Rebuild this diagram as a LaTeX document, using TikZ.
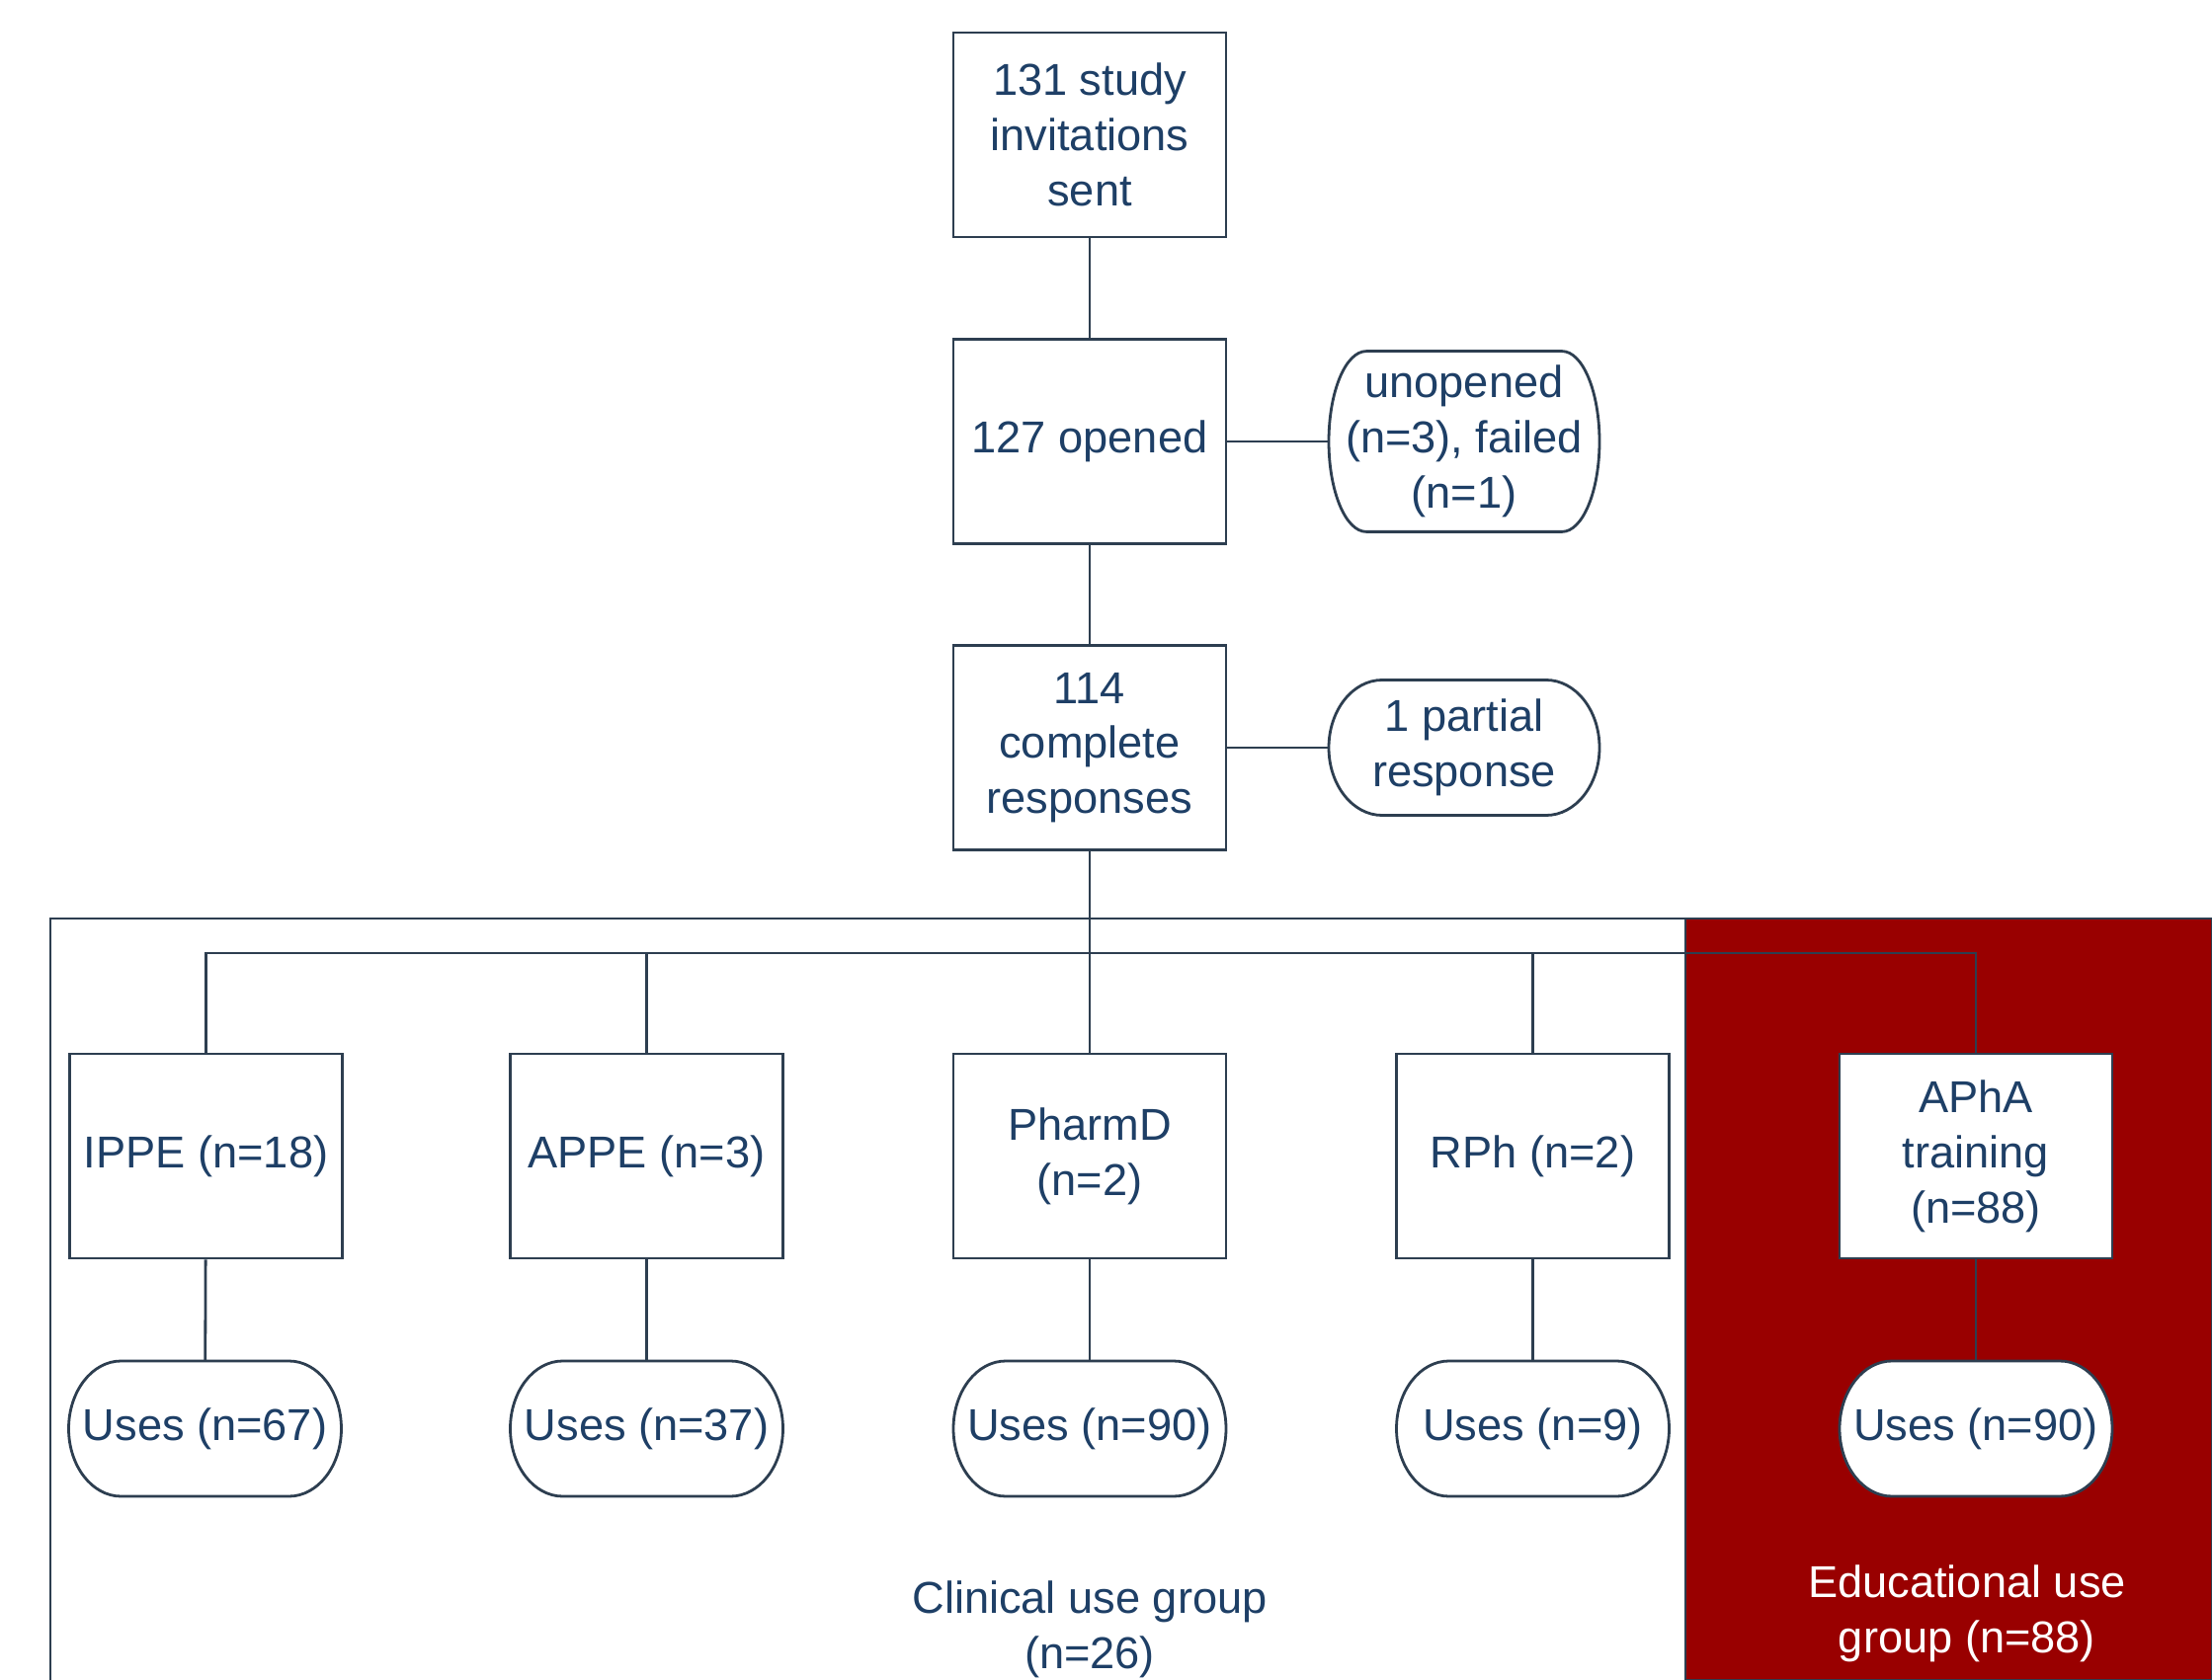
\documentclass[tikz,border=0pt]{standalone}
\usepackage{fontspec}
\setmainfont{Liberation Sans}
\definecolor{txtc}{HTML}{1E3F66}
\definecolor{linec}{HTML}{2D3E50}
\definecolor{redc}{HTML}{990000}
% outline of a terminator: centre x, centre y, half width, half height, side bulge
\newcommand\ovalshape[5]{%
 \filldraw[conn, fill=white] ({#1-#3+#5},{#2-#4}) -- ({#1+#3-#5},{#2-#4})
   .. controls ({#1+#3-0.448*#5},{#2-#4}) and ({#1+#3},{#2-0.552*#4}) .. ({#1+#3},{#2})
   .. controls ({#1+#3},{#2+0.552*#4}) and ({#1+#3-0.448*#5},{#2+#4}) .. ({#1+#3-#5},{#2+#4})
   -- ({#1-#3+#5},{#2+#4})
   .. controls ({#1-#3+0.448*#5},{#2+#4}) and ({#1-#3},{#2+0.552*#4}) .. ({#1-#3},{#2})
   .. controls ({#1-#3},{#2-0.552*#4}) and ({#1-#3+0.448*#5},{#2-#4}) .. cycle;}
\begin{document}
\begin{tikzpicture}[x=0.5pt,y=-0.5pt,
  every node/.style={font=\fontsize{22.6}{27.9}\selectfont, text=txtc, align=center, inner sep=0pt},
  sqbox/.style={draw=linec, line width=1.4pt, fill=white, rectangle, minimum width=138pt, minimum height=103.5pt},
  ovtext/.style={rectangle, minimum width=137pt, minimum height=68.5pt},
  conn/.style={draw=linec, line width=1.4pt}]
\useasboundingbox (0,0) rectangle (2239,1701);
\fill[white] (0,0) rectangle (2239,1701);
% group regions
\filldraw[fill=redc, draw=linec, line width=0.7pt] (1706,930) rectangle (2239,1701);
\draw[conn] (51,1701) -- (51,930) -- (2239,930);
% oval outlines
\ovalshape{1482}{447}{137}{91.4}{38}
\ovalshape{1482}{757}{137}{68.5}{54}
\ovalshape{207.5}{1446.5}{138}{68.5}{53}
\ovalshape{654.5}{1446.5}{138}{68.5}{53}
\ovalshape{1103}{1446.5}{138}{68.5}{53}
\ovalshape{1551.5}{1446.5}{138}{68.5}{53}
\ovalshape{2000}{1446.5}{138}{68.5}{53}
% top chain
\node[sqbox] (sent) at (1103,136.5) {131 study\\invitations\\sent};
\node[sqbox] (opened) at (1103,447) {127 opened};
\node[ovtext, minimum height=91.4pt] (unop) at (1482,447) {unopened\\(n=3), failed\\(n=1)};
\node[sqbox] (compl) at (1103,757) {114\\complete\\responses};
\node[ovtext] (part) at (1482,757) {1 partial\\response};
% second row
\node[sqbox] (ippe) at (208.5,1170.5) {IPPE (n=18)};
\node[sqbox] (appe) at (654.5,1170.5) {APPE (n=3)};
\node[sqbox] (pharmd) at (1103,1170.5) {PharmD\\(n=2)};
\node[sqbox] (rph) at (1551.5,1170.5) {RPh (n=2)};
\node[sqbox] (apha) at (2000,1170.5) {APhA\\training\\(n=88)};
% uses row
\node[ovtext] (u1) at (207.5,1446.5) {Uses (n=67)};
\node[ovtext] (u2) at (654.5,1446.5) {Uses (n=37)};
\node[ovtext] (u3) at (1103,1446.5) {Uses (n=90)};
\node[ovtext] (u4) at (1551.5,1446.5) {Uses (n=9)};
\node[ovtext] (u5) at (2000,1446.5) {Uses (n=90)};
% group labels
\node (clin) at (1103,1650) {Clinical use group\\(n=26)};
\node[text=white] (edu) at (1991,1634) {Educational use\\group (n=88)};
% connectors
\coordinate (bus) at (1103,965);
\draw[conn] (sent) -- (opened);
\draw[conn] (opened) -- (unop);
\draw[conn] (opened) -- (compl);
\draw[conn] (compl) -- (part);
\draw[conn] (compl) -- (pharmd);
\draw[conn] (ippe.north) |- (bus) -| (apha.north);
\draw[conn] (appe.north) -- (appe.north |- bus);
\draw[conn] (rph.north) -- (rph.north |- bus);
\draw[conn] (ippe) -- (u1);
\draw[conn] (appe) -- (u2);
\draw[conn] (pharmd) -- (u3);
\draw[conn] (rph) -- (u4);
\draw[conn] (apha) -- (u5);
\end{tikzpicture}
\end{document}
